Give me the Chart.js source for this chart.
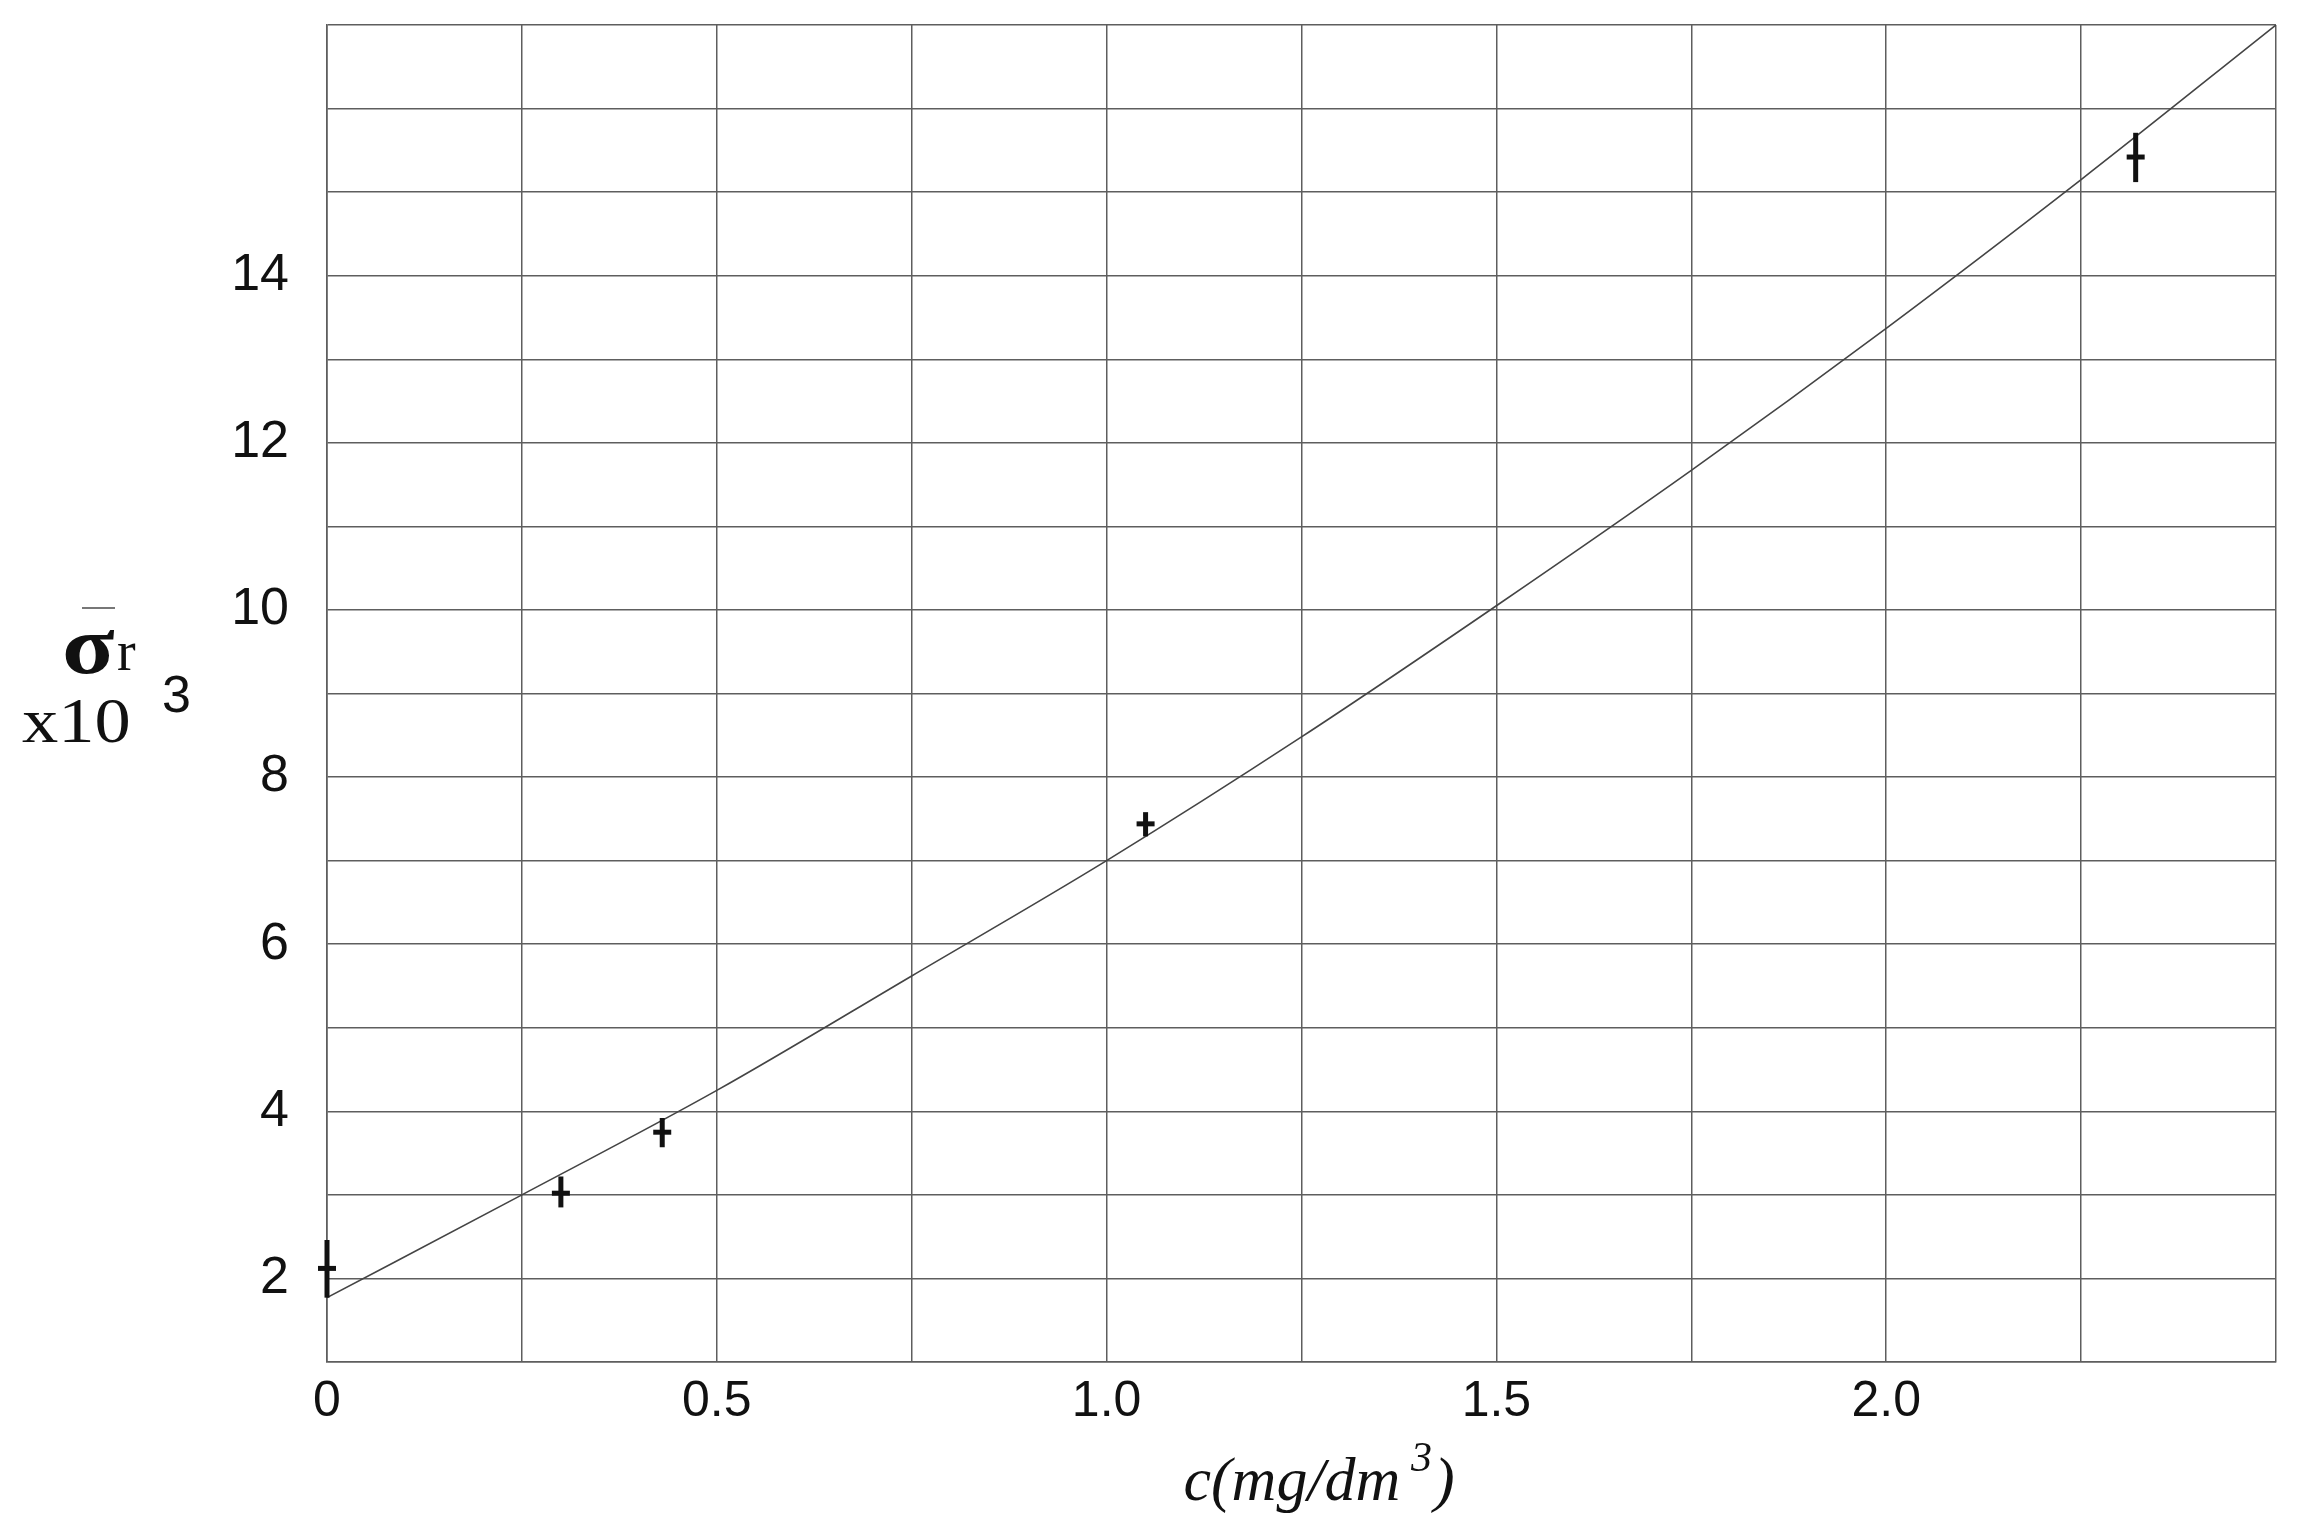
<!DOCTYPE html>
<html>
<head>
<meta charset="utf-8">
<script src="https://cdn.jsdelivr.net/npm/chart.js@4/dist/chart.umd.min.js"></script>
<style>
html,body{margin:0;padding:0;background:#fff;}
#wrap{width:2310px;height:1535px;}
</style>
</head>
<body>
<div id="wrap"><canvas id="c" width="2310" height="1535"></canvas></div>
<script>
// Measured points (c in mg/dm3, sigma_r x10^3)
const concentration = [0, 0.30, 0.43, 1.05, 2.32];
const sigmaR       = [2.12, 3.02, 3.75, 7.44, 15.42];
const sigmaLow     = [1.77, 2.85, 3.57, 7.29, 15.12];
const sigmaHigh    = [2.46, 3.22, 3.92, 7.58, 15.71];
// Fitted curve
const fitC     = [0, 0.25, 0.5, 0.75, 1.0, 1.25, 1.5, 1.75, 2.0, 2.25, 2.5];
const fitSigma = [1.77, 3.0, 4.25, 5.62, 7.0, 8.48, 10.05, 11.67, 13.37, 15.15, 17.0];
// Tick labels
const xTickLabels = [0, 0.5, 1.0, 1.5, 2.0];
const yTickLabels = [2, 4, 6, 8, 10, 12, 14];

const GRID = '#5e5e5e';

const errorBars = {
  id: 'errorBars',
  afterDatasetsDraw(chart) {
    const xs = chart.scales.x, ys = chart.scales.y, ctx = chart.ctx;
    ctx.save();
    ctx.strokeStyle = '#111';
    ctx.lineWidth = 5;
    ctx.lineCap = 'butt';
    concentration.forEach((c, i) => {
      const px = xs.getPixelForValue(c);
      ctx.beginPath();
      ctx.moveTo(px, ys.getPixelForValue(sigmaHigh[i]));
      ctx.lineTo(px, ys.getPixelForValue(sigmaLow[i]));
      ctx.stroke();
    });
    ctx.restore();
  }
};

const titles = {
  id: 'titles',
  afterDraw(chart) {
    const ctx = chart.ctx;
    ctx.save();
    ctx.fillStyle = '#111';
    ctx.textBaseline = 'alphabetic';
    ctx.textAlign = 'left';
    // y-axis title: sigma-bar r x10^3
    ctx.strokeStyle = '#777';
    ctx.lineWidth = 2;
    ctx.beginPath(); ctx.moveTo(82, 608); ctx.lineTo(115, 608); ctx.stroke();
    ctx.save();
    ctx.translate(62, 673);
    ctx.scale(1.18, 1);
    ctx.font = 'bold 82px "Liberation Serif"';
    ctx.fillText('σ', 0, 0);
    ctx.restore();
    ctx.font = '56px "Liberation Serif"';
    ctx.fillText('r', 117, 670);
    ctx.save();
    ctx.translate(22, 742);
    ctx.scale(1.15, 1);
    ctx.font = '63px "Liberation Serif"';
    ctx.fillText('x10', 0, 0);
    ctx.restore();
    ctx.font = '52px "Liberation Sans"';
    ctx.fillText('3', 162, 712);
    // x-axis title: c(mg/dm^3)
    const main = 'c(mg/dm';
    ctx.font = 'italic 62px "Liberation Serif"';
    const w1 = ctx.measureText(main).width;
    ctx.font = 'italic 42px "Liberation Serif"';
    const w2 = ctx.measureText(' 3').width;
    ctx.font = 'italic 62px "Liberation Serif"';
    const w3 = ctx.measureText(')').width;
    const total = w1 + w2 + w3;
    let x0 = 1318 - total / 2;
    ctx.fillText(main, x0, 1500);
    ctx.font = 'italic 42px "Liberation Serif"';
    ctx.fillText(' 3', x0 + w1, 1471);
    ctx.font = 'italic 62px "Liberation Serif"';
    ctx.fillText(')', x0 + w1 + w2 + 2, 1500);
    ctx.restore();
  }
};

new Chart(document.getElementById('c'), {
  type: 'scatter',
  data: {
    datasets: [
      {
        label: 'fit',
        type: 'line',
        data: fitC.map((c, i) => ({x: c, y: fitSigma[i]})),
        borderColor: '#444',
        borderWidth: 1.6,
        pointRadius: 0,
        fill: false,
        cubicInterpolationMode: 'monotone',
        order: 2
      },
      {
        label: 'measured',
        data: concentration.map((c, i) => ({x: c, y: sigmaR[i]})),
        pointStyle: 'line',
        pointRadius: 9,
        borderColor: '#111',
        backgroundColor: '#111',
        borderWidth: 5,
        clip: false,
        order: 1
      }
    ]
  },
  options: {
    responsive: false,
    animation: false,
    devicePixelRatio: 1,
    layout: { padding: { left: 0, right: 34, top: 25, bottom: 0 } },
    plugins: { legend: { display: false }, tooltip: { enabled: false } },
    scales: {
      x: {
        type: 'linear',
        min: 0, max: 2.5,
        afterFit(s) { s.height = 173; s.paddingLeft = 0; s.paddingRight = 0; },
        border: { display: true, color: GRID, width: 1.6 },
        grid: { color: GRID, lineWidth: 1.5, drawTicks: false },
        ticks: {
          stepSize: 0.25,
          autoSkip: false,
          maxRotation: 0,
          padding: 10,
          color: '#111',
          font: { family: '"Liberation Sans"', size: 50 },
          callback(v) {
            const hit = xTickLabels.find(t => Math.abs(t - v) < 1e-6);
            if (hit === undefined) return '';
            return hit === 0 ? '0' : hit.toFixed(1);
          }
        }
      },
      y: {
        type: 'linear',
        min: 1, max: 17,
        afterFit(s) { s.width = 327; s.paddingTop = 0; s.paddingBottom = 0; },
        border: { display: true, color: GRID, width: 1.6 },
        grid: { color: GRID, lineWidth: 1.5, drawTicks: false },
        ticks: {
          stepSize: 1,
          autoSkip: false,
          padding: 38,
          color: '#111',
          font: { family: '"Liberation Sans"', size: 52 },
          callback(v) {
            return yTickLabels.includes(v) ? String(v) : '';
          }
        }
      }
    }
  },
  plugins: [errorBars, titles]
});
</script>
</body>
</html>
